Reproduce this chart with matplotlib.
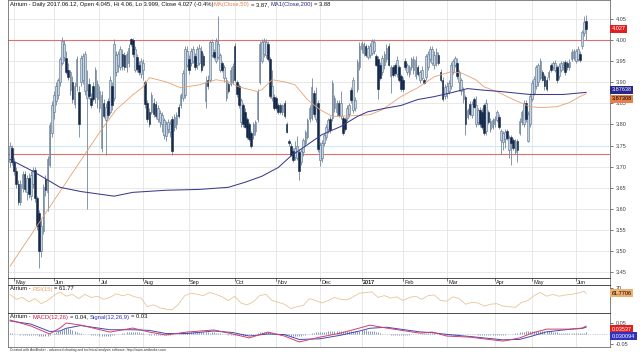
import numpy as np
import matplotlib
matplotlib.use("Agg")
import matplotlib.pyplot as plt

plt.rcParams['font.family'] = ['Liberation Sans', 'DejaVu Sans']

# daily bars, end of April 2016 .. 12 Jun 2017 (one entry per trading day)
opens = [
    3.712, 3.745, 3.712, 3.690, 3.660, 3.616, 3.650, 3.682, 3.640, 3.672, 3.630, 3.660, 3.692, 3.625, 3.590, 3.500, 3.548, 3.670, 3.640, 3.705, 3.780,
    3.830, 3.855, 3.870, 3.900, 3.945, 3.960, 3.958, 3.930, 3.882, 3.900, 3.848, 3.890, 3.878, 3.900, 3.905, 3.880, 3.862, 3.895, 3.862, 3.890, 3.865, 3.860,
    3.840, 3.745, 3.850, 3.810, 3.855, 3.830, 3.890, 3.862, 3.925, 3.940, 3.935, 3.968, 3.965, 3.935, 3.945, 4.002, 4.000, 3.930, 3.960, 3.942, 3.920,
    3.930, 3.900, 3.850, 3.830, 3.830, 3.852, 3.848, 3.812, 3.805, 3.800, 3.775, 3.772, 3.790, 3.782, 3.814, 3.795, 3.800, 3.842, 3.845, 3.862, 3.870, 3.940,
    3.955, 3.945, 3.950, 3.962, 3.940, 3.945, 3.975, 3.962, 3.855, 3.905, 3.905, 3.965, 3.972, 3.950, 3.960, 3.930, 3.945, 3.910, 3.862, 3.895, 3.895, 3.900,
    3.985, 3.900, 3.890, 3.805, 3.845, 3.830, 3.812, 3.800, 3.780, 3.775, 3.785, 3.812, 3.900, 3.950, 3.968, 3.965, 3.990, 3.955, 3.862, 3.865,
    3.862, 3.845, 3.845, 3.830, 3.850, 3.800, 3.760, 3.750, 3.738, 3.722, 3.720, 3.735, 3.712, 3.735, 3.755, 3.770, 3.812, 3.815, 3.875, 3.812, 3.852,
    3.715, 3.720, 3.755, 3.770, 3.790, 3.812, 3.815, 3.838, 3.830, 3.850, 3.820, 3.815, 3.812, 3.815, 3.825, 3.882, 3.835, 3.840, 3.885, 3.935,
    3.978, 3.970, 3.985, 3.960, 3.965, 3.970, 3.975, 3.962, 3.955, 3.940, 3.925, 3.940, 3.955, 3.985, 3.915, 3.935, 3.940, 3.920, 3.935, 3.915,
    3.905, 3.950, 3.925, 3.920, 3.935, 3.928, 3.915, 3.935, 3.905, 3.910, 3.905, 3.912, 3.935, 3.955, 3.945, 3.940, 3.945, 3.965, 3.925, 3.905, 3.868,
    3.875, 3.880, 3.890, 3.925, 3.940, 3.945, 3.900, 3.880, 3.860, 3.865, 3.818, 3.848, 3.822, 3.860, 3.800, 3.805, 3.835, 3.830, 3.845, 3.785, 3.830, 3.790, 3.795,
    3.800, 3.810, 3.818, 3.762, 3.758, 3.765, 3.785, 3.740, 3.770, 3.762, 3.735, 3.760, 3.780, 3.805, 3.800, 3.852, 3.760, 3.800,
    3.860, 3.875, 3.890, 3.900, 3.910, 3.925, 3.915, 3.905, 3.912, 3.940, 3.935, 3.930, 3.935, 3.915, 3.930, 3.935, 3.948, 3.945, 3.935, 3.955, 3.958,
    3.950, 3.955, 3.968, 3.985, 4.017, 4.045,
]
highs = [
    3.758, 3.752, 3.720, 3.700, 3.668, 3.668, 3.690, 3.690, 3.680, 3.685, 3.690, 3.700, 3.700, 3.630, 3.598, 3.575, 3.660, 3.680, 3.725, 3.805, 3.855,
    3.880, 3.900, 3.910, 3.960, 4.008, 4.000, 3.975, 3.945, 3.930, 3.915, 3.900, 3.962, 3.890, 3.965, 3.970, 3.975, 3.930, 3.910, 3.875, 3.900, 3.935, 3.905,
    3.890, 3.880, 3.860, 3.850, 3.862, 3.915, 3.900, 4.002, 3.975, 3.975, 3.985, 3.980, 3.972, 3.975, 3.990, 4.005, 4.004, 3.985, 3.968, 3.950, 3.958,
    3.955, 3.905, 3.858, 3.838, 3.878, 3.862, 3.855, 3.845, 3.835, 3.830, 3.815, 3.808, 3.812, 3.810, 3.820, 3.825, 3.830, 3.848, 3.875, 3.930, 3.985, 3.985,
    3.965, 3.982, 3.985, 3.970, 3.985, 3.990, 3.985, 3.970, 3.915, 3.918, 4.000, 4.002, 3.980, 4.005, 4.058, 3.970, 3.950, 3.940, 3.912, 3.900, 3.935, 3.945,
    3.992, 3.905, 3.895, 3.862, 3.850, 3.838, 3.818, 3.805, 3.785, 3.805, 3.810, 3.885, 3.998, 4.002, 4.004, 4.002, 3.998, 3.960, 3.930, 3.872,
    3.868, 3.850, 3.852, 3.848, 3.858, 3.805, 3.765, 3.756, 3.745, 3.760, 3.772, 3.742, 3.745, 3.768, 3.788, 3.815, 3.845, 3.910, 3.882, 3.888, 3.858,
    3.758, 3.762, 3.780, 3.800, 3.815, 3.820, 3.905, 3.870, 3.858, 3.858, 3.880, 3.820, 3.818, 3.845, 3.850, 3.888, 3.912, 3.865, 3.955, 3.995,
    3.998, 3.995, 3.990, 3.988, 3.992, 4.002, 4.002, 3.968, 3.962, 3.948, 3.965, 3.975, 3.990, 3.992, 3.940, 3.940, 3.945, 3.962, 3.940, 3.920,
    3.912, 3.958, 3.945, 3.940, 3.960, 3.962, 3.962, 3.940, 3.930, 3.938, 3.910, 3.968, 3.975, 3.985, 3.985, 3.975, 3.982, 3.972, 3.932, 3.912, 3.895,
    3.900, 3.905, 3.948, 3.955, 3.962, 3.958, 3.930, 3.910, 3.888, 3.870, 3.840, 3.855, 3.855, 3.865, 3.868, 3.840, 3.842, 3.838, 3.850, 3.860, 3.835, 3.815, 3.815,
    3.820, 3.835, 3.825, 3.790, 3.785, 3.790, 3.790, 3.775, 3.775, 3.768, 3.765, 3.765, 3.815, 3.835, 3.858, 3.858, 3.832, 3.875,
    3.905, 3.915, 3.940, 3.945, 3.958, 3.930, 3.920, 3.912, 3.930, 3.945, 3.950, 3.952, 3.940, 3.945, 3.950, 3.950, 3.952, 3.950, 3.955, 3.978, 3.980,
    3.980, 3.985, 3.975, 4.025, 4.058, 4.060,
]
lows = [
    3.700, 3.705, 3.680, 3.650, 3.610, 3.608, 3.640, 3.640, 3.620, 3.625, 3.620, 3.650, 3.615, 3.550, 3.460, 3.485, 3.540, 3.630, 3.595, 3.700, 3.770,
    3.812, 3.845, 3.860, 3.890, 3.940, 3.950, 3.920, 3.905, 3.870, 3.852, 3.840, 3.880, 3.770, 3.890, 3.895, 3.870, 3.600, 3.860, 3.838, 3.855, 3.850, 3.840,
    3.830, 3.735, 3.815, 3.728, 3.815, 3.825, 3.835, 3.855, 3.915, 3.925, 3.930, 3.930, 3.928, 3.925, 3.935, 3.985, 3.960, 3.925, 3.925, 3.918, 3.910,
    3.905, 3.840, 3.805, 3.795, 3.825, 3.818, 3.812, 3.805, 3.795, 3.782, 3.765, 3.760, 3.780, 3.770, 3.728, 3.785, 3.790, 3.815, 3.838, 3.855, 3.862, 3.935,
    3.920, 3.938, 3.945, 3.930, 3.932, 3.940, 3.925, 3.935, 3.840, 3.885, 3.900, 3.960, 3.955, 3.945, 3.955, 3.925, 3.925, 3.900, 3.855, 3.875, 3.890, 3.895,
    3.900, 3.865, 3.840, 3.795, 3.795, 3.792, 3.765, 3.760, 3.745, 3.765, 3.775, 3.805, 3.895, 3.945, 3.960, 3.958, 3.950, 3.862, 3.855, 3.835,
    3.835, 3.825, 3.825, 3.822, 3.815, 3.780, 3.750, 3.725, 3.712, 3.715, 3.715, 3.668, 3.705, 3.725, 3.748, 3.765, 3.805, 3.810, 3.818, 3.805, 3.735,
    3.702, 3.712, 3.748, 3.762, 3.780, 3.780, 3.808, 3.830, 3.820, 3.818, 3.812, 3.775, 3.785, 3.808, 3.818, 3.852, 3.828, 3.832, 3.878, 3.930,
    3.970, 3.962, 3.960, 3.955, 3.958, 3.965, 3.968, 3.938, 3.860, 3.905, 3.918, 3.932, 3.948, 3.938, 3.875, 3.912, 3.915, 3.912, 3.900, 3.880,
    3.878, 3.928, 3.918, 3.912, 3.928, 3.920, 3.908, 3.915, 3.898, 3.905, 3.895, 3.905, 3.928, 3.948, 3.940, 3.932, 3.938, 3.940, 3.900, 3.855, 3.860,
    3.862, 3.872, 3.885, 3.920, 3.935, 3.908, 3.880, 3.870, 3.852, 3.775, 3.812, 3.820, 3.815, 3.838, 3.795, 3.798, 3.795, 3.790, 3.775, 3.775, 3.800, 3.782, 3.790,
    3.795, 3.805, 3.790, 3.730, 3.740, 3.745, 3.762, 3.720, 3.705, 3.740, 3.730, 3.712, 3.775, 3.798, 3.795, 3.805, 3.758, 3.795,
    3.855, 3.870, 3.885, 3.892, 3.905, 3.902, 3.882, 3.880, 3.905, 3.925, 3.930, 3.925, 3.898, 3.908, 3.925, 3.928, 3.918, 3.930, 3.928, 3.950, 3.952,
    3.945, 3.950, 3.948, 3.980, 4.010, 3.999,
]
closes = [
    3.750, 3.712, 3.690, 3.660, 3.616, 3.660, 3.682, 3.648, 3.672, 3.635, 3.680, 3.692, 3.625, 3.560, 3.500, 3.560, 3.652, 3.645, 3.718, 3.798, 3.845,
    3.870, 3.892, 3.905, 3.955, 3.998, 3.990, 3.925, 3.912, 3.925, 3.860, 3.892, 3.955, 3.800, 3.958, 3.962, 3.968, 3.882, 3.868, 3.845, 3.860, 3.928, 3.895,
    3.880, 3.870, 3.820, 3.842, 3.822, 3.905, 3.845, 3.990, 3.965, 3.968, 3.978, 3.938, 3.935, 3.968, 3.982, 3.990, 3.968, 3.978, 3.932, 3.925, 3.950,
    3.945, 3.848, 3.812, 3.802, 3.870, 3.825, 3.820, 3.840, 3.828, 3.822, 3.810, 3.800, 3.805, 3.800, 3.738, 3.818, 3.822, 3.820, 3.870, 3.922, 3.978, 3.975,
    3.928, 3.975, 3.978, 3.935, 3.980, 3.982, 3.930, 3.940, 3.900, 3.892, 3.995, 3.995, 3.960, 3.998, 3.990, 3.965, 3.930, 3.935, 3.905, 3.880, 3.928, 3.938,
    3.905, 3.872, 3.845, 3.858, 3.802, 3.795, 3.770, 3.765, 3.750, 3.800, 3.805, 3.878, 3.990, 3.995, 3.998, 3.995, 3.955, 3.868, 3.890, 3.840,
    3.840, 3.830, 3.830, 3.845, 3.820, 3.782, 3.755, 3.728, 3.715, 3.745, 3.750, 3.690, 3.738, 3.762, 3.782, 3.810, 3.838, 3.888, 3.825, 3.840, 3.742,
    3.752, 3.755, 3.775, 3.795, 3.810, 3.788, 3.898, 3.862, 3.850, 3.822, 3.850, 3.780, 3.790, 3.838, 3.845, 3.858, 3.905, 3.858, 3.948, 3.985,
    3.992, 3.990, 3.965, 3.982, 3.985, 3.998, 3.995, 3.942, 3.885, 3.910, 3.958, 3.968, 3.982, 3.942, 3.935, 3.918, 3.922, 3.952, 3.905, 3.885,
    3.885, 3.935, 3.940, 3.935, 3.955, 3.955, 3.952, 3.920, 3.925, 3.930, 3.898, 3.962, 3.968, 3.978, 3.978, 3.965, 3.972, 3.945, 3.905, 3.860, 3.888,
    3.892, 3.898, 3.940, 3.950, 3.958, 3.915, 3.925, 3.905, 3.882, 3.800, 3.835, 3.825, 3.848, 3.842, 3.845, 3.835, 3.800, 3.795, 3.780, 3.850, 3.805, 3.808, 3.810,
    3.812, 3.830, 3.795, 3.785, 3.780, 3.782, 3.768, 3.768, 3.755, 3.745, 3.760, 3.740, 3.808, 3.830, 3.850, 3.812, 3.825, 3.868,
    3.898, 3.908, 3.935, 3.940, 3.950, 3.905, 3.890, 3.885, 3.925, 3.930, 3.945, 3.945, 3.905, 3.938, 3.945, 3.942, 3.925, 3.935, 3.948, 3.972, 3.975,
    3.975, 3.978, 3.952, 4.020, 4.043, 4.027,
]

month_labels = ['May', 'Jun', 'Jul', 'Aug', 'Sep', 'Oct', 'Nov', 'Dec', '2017', 'Feb', 'Mar', 'Apr', 'May', 'Jun']
month_first_bar = [2, 21, 43, 64, 86, 108, 128, 149, 169, 189, 210, 233, 251, 272]

# moving averages (bar, value)
ma50_bar = [0, 43, 51, 59, 64, 67, 75, 82, 91, 99, 105, 110, 119, 121, 126, 132, 137, 143, 149, 155,
            167, 173, 179, 188, 196, 204, 212, 217, 224, 228, 234, 242, 250, 255, 263, 269, 274, 277]
ma50_val = [3.464, 3.781, 3.835, 3.870, 3.889, 3.911, 3.901, 3.887, 3.894, 3.906, 3.901, 3.889, 3.878, 3.882, 3.906,
            3.901, 3.894, 3.859, 3.835, 3.819, 3.821, 3.823, 3.835, 3.866, 3.887, 3.913, 3.925, 3.922, 3.906, 3.889,
            3.878, 3.859, 3.842, 3.840, 3.842, 3.852, 3.866, 3.873]
ma200_bar = [0, 11, 24, 34, 50, 59, 75, 91, 105, 113, 121, 129, 135, 143, 150, 159, 167, 172, 180,
             188, 196, 204, 212, 220, 226, 236, 250, 266, 277]
ma200_val = [3.717, 3.689, 3.651, 3.641, 3.630, 3.639, 3.644, 3.646, 3.651, 3.663, 3.677, 3.698, 3.725, 3.752,
             3.776, 3.795, 3.819, 3.830, 3.838, 3.845, 3.859, 3.866, 3.875, 3.885, 3.882, 3.878, 3.871, 3.871, 3.876]
levels = [4.00, 3.73]

# RSI(15), every third bar, last value on the final bar
rsi_val = [60, 52, 55, 48, 53, 45, 50, 58, 64, 57, 60, 53, 60, 55, 57, 52, 55, 61, 58, 60, 56, 54, 40, 43,
           38, 36, 35, 44, 58, 62, 60, 58, 63, 60, 56, 50, 57, 46, 43, 48, 58, 60, 50, 47, 44, 37, 40, 42,
           53, 50, 46, 50, 55, 52, 51, 56, 62, 63, 64, 55, 58, 54, 56, 50, 55, 57, 52, 58, 59, 50, 49, 56,
           53, 44, 47, 46, 41, 44, 45, 41, 40, 39, 47, 50, 58, 63, 57, 60, 57, 59, 60, 62, 65, 61.77]

# MACD(12,26) and signal, (bar, value)
macd_bar = [0, 10, 19, 24, 27, 34, 48, 59, 67, 75, 85, 98, 107, 115, 124, 132, 139, 149, 159, 168,
            173, 181, 197, 203, 210, 221, 237, 245, 251, 258, 269, 275, 277]
macd_val = [0.064, 0.036, -0.002, 0.026, 0.050, 0.040, 0.007, 0.026, 0.007, -0.007, 0.007, 0.017, -0.002,
            -0.021, 0.007, -0.012, -0.040, -0.017, 0.002, 0.026, 0.040, 0.026, 0.002, 0.007, -0.012, -0.017,
            -0.036, -0.021, 0.002, 0.021, 0.021, 0.026, 0.0354]
signal_val = [0.060, 0.045, 0.010, 0.012, 0.025, 0.038, 0.018, 0.018, 0.015, 0.000, 0.000, 0.012, 0.005,
              -0.012, -0.002, -0.005, -0.028, -0.025, -0.008, 0.012, 0.025, 0.030, 0.008, 0.004, -0.004,
              -0.014, -0.030, -0.028, -0.012, 0.008, 0.020, 0.024, 0.0301]
# histogram per bar, in thousandths
macd_hist = [
    4, 2, 0, -2, -4, -6, -7, -8, -9, -9, -9, -8, -8, -9, -10, -11, -12, -12, -10, -6, -2,
    3, 8, 12, 14, 18, 22, 25, 24, 20, 16, 12, 8, 4, 2, 0, -1, -3, -4, -6, -7, -8, -9,
    -10, -10, -11, -11, -11, -10, -8, -6, -4, -2, 0, 2, 4, 5, 6, 7, 8, 8, 7, 5, 3,
    1, -1, -3, -5, -7, -8, -8, -9, -8, -8, -7, -7, -6, -5, -3, -1, 1, 3, 5, 6, 7, 7,
    7, 6, 6, 5, 5, 6, 6, 5, 5, 5, 4, 5, 5, 4, 3, 2, 0, -2, -3, -5, -6, -7,
    -7, -8, -9, -9, -10, -10, -9, -8, -6, -3, 0, 3, 6, 8, 9, 9, 8, 6, 3, 0,
    -2, -4, -6, -7, -7, -8, -9, -10, -11, -12, -12, -12, -11, -9, -7, -4, -1, 2, 4, 6, 7,
    8, 8, 9, 9, 10, 10, 10, 10, 11, 10, 10, 11, 12, 12, 13, 13, 14, 14, 14, 14,
    15, 15, 15, 14, 14, 13, 11, 9, 6, 3, 0, -2, -3, -4, -5, -5, -6, -6, -6, -6,
    -6, -6, -5, -5, -4, -3, -2, -1, 0, 1, 2, 3, 3, 3, 2, 1, 0, -1, -2, -4, -6,
    -8, -8, -7, -7, -6, -5, -5, -4, -4, -3, -3, -3, -3, -4, -4, -5, -5, -5, -6, -6, -6, -6, -6,
    -6, -6, -6, -6, -5, -5, -4, -3, -2, -1, 1, 3, 5, 7, 8, 10, 12, 13,
    14, 14, 14, 14, 14, 13, 13, 12, 11, 10, 8, 7, 5, 4, 3, 2, 2, 1, 1, 1, 1,
    1, 2, 2, 3, 4, 5,
]

n = len(closes)
assert len(opens) == len(highs) == len(lows) == n == len(macd_hist)

W, H = 640, 353
fig = plt.figure(figsize=(W / 100, H / 100), dpi=100, facecolor='white')


def panel(top, bottom):
    return fig.add_axes([8 / W, 1 - bottom / H, (610 - 8) / W, (bottom - top) / H])


ax = panel(0, 278)
axd = panel(278, 285)
axr = panel(285, 313)
axm = panel(313, 347)

xlim = (-1, 288.5)
frame = '#707070'
grid = '#e4e4e4'
for a in (ax, axd, axr, axm):
    a.set_xlim(*xlim)
    a.set_xticks([])
    for s in a.spines.values():
        s.set_color(frame)
        s.set_linewidth(0.6)
    for mb in month_first_bar:
        a.axvline(mb, color=grid, lw=0.6, zorder=0)
    a.yaxis.tick_right()
    a.tick_params(axis='y', labelsize=4, length=2, width=0.5, pad=2,
                  colors='#404040')
for a in (axd, axr, axm):
    a.spines['top'].set_color('#303030')

# ---- price panel
x = np.arange(n)
o = np.array(opens)
c = np.array(closes)
hi = np.array(highs)
lo = np.array(lows)
up = c >= o

ax.set_ylim(3.436, 4.095)
yt = np.arange(3.45, 4.051, 0.05)
ax.set_yticks(yt)
ax.set_yticklabels(['%.2f' % v for v in yt])
for v in yt:
    ax.axhline(v, color=grid, lw=0.6, zorder=0)
ax.axhline(3.75, color='#c8ecec', lw=0.7, zorder=0)
for lv in levels:
    ax.axhline(lv, color='#e07070', lw=0.8, zorder=1)

ax.vlines(x, lo, hi, color='#7088a0', lw=0.6, zorder=2)
ax.bar(x[up], np.maximum(c - o, 0.0015)[up], bottom=o[up], width=0.8,
       color='#c4d4e4', edgecolor='#5a7088', lw=0.4, zorder=3)
ax.bar(x[~up], (o - c)[~up], bottom=c[~up], width=0.8,
       color='#14284a', edgecolor='#14284a', lw=0.4, zorder=3)

ax.plot(ma50_bar, ma50_val, color='#e8a070', lw=0.6, zorder=4)
ax.plot(ma200_bar, ma200_val, color='#3c3c8c', lw=0.75, zorder=4)


def tag(a, y, text, face, fg):
    a.text(1.003, y, text, transform=a.get_yaxis_transform(), fontsize=4,
           color=fg, ha='left', va='center', clip_on=False, zorder=10,
           bbox=dict(boxstyle='square,pad=0.25', facecolor=face, edgecolor='none'))


tag(ax, closes[-1], '4.027', '#e02020', 'white')
tag(ax, 3.882, '3.87638', '#28288a', 'white')
tag(ax, 3.861, '3.87308', '#e8804a', 'black')

# ---- date strip
axd.set_ylim(0, 1)
axd.set_yticks([])
for lab, mb in zip(month_labels, month_first_bar):
    axd.vlines(mb, 0.55, 1, color='#404040', lw=0.5)
    axd.text(mb + 0.6, 0.42, lab, fontsize=4, ha='left', va='center',
             color='#202020', fontweight='bold' if lab == '2017' else 'normal')

# ---- RSI panel
axr.set_ylim(29.8, 75.2)
axr.set_yticks([70])
axr.set_yticklabels(['70'])
rsi_bar = list(range(0, n, 3)) + [n - 1]
axr.plot(rsi_bar, rsi_val, color='#e8c49a', lw=0.6)
tag(axr, 61.77, '61.7706', '#f0b070', 'black')

# ---- MACD panel
axm.set_ylim(-0.064, 0.0976)
axm.set_yticks([0.05, -0.05])
axm.set_yticklabels(['0.05', '-0.05'])
axm.axhline(0, color='#9aa8c4', lw=0.5, ls=(0, (1, 1.5)), zorder=1)
hist = np.array(macd_hist) / 1000.0
axm.vlines(x, 0, hist, color='#7088b0', lw=0.6, zorder=2)
axm.plot(macd_bar, signal_val, color='#4646b4', lw=0.7, zorder=3)
axm.plot(macd_bar, macd_val, color='#d0406a', lw=0.7, zorder=4)
tag(axm, 0.020, '0.03537', '#e02020', 'white')
tag(axm, -0.012, '0.030094', '#3030c0', 'white')

# ---- titles
renderer = fig.canvas.get_renderer()


def text_run(x_px, y_px, parts, size):
    probe = fig.text(0, 0, 'x x', fontsize=size)
    probe2 = fig.text(0, 0, 'xx', fontsize=size)
    sp = probe.get_window_extent(renderer).width - probe2.get_window_extent(renderer).width
    probe.remove()
    probe2.remove()
    for s, col in parts:
        x_px += (len(s) - len(s.lstrip(' '))) * sp
        core = s.strip(' ')
        t = fig.text(x_px / W, 1 - y_px / H, core, color=col, fontsize=size,
                     ha='left', va='center')
        x_px += t.get_window_extent(renderer).width
        x_px += (len(s) - len(s.rstrip(' '))) * sp


black = '#101010'
text_run(10, 4.5, [('Atrium - Daily 2017.06.12, Open 4.045, Hi 4.06, Lo 3.999, Close 4.027 (-0.4%)', black),
                   ('MA(Close,50)', '#e8804a'), (' = 3.87, ', black),
                   ('MA1(Close,200)', '#28288a'), (' = 3.88', black)], 4.2)
text_run(10, 289, [('Atrium - ', black), ('RSI(15)', '#e8a060'), (' = 61.77', black)], 4.2)
text_run(10, 317, [('Atrium - ', black), ('MACD(12,26)', '#d02040'), (' = 0.04, ', black),
                   ('Signal(12,26,9)', '#3030c0'), (' = 0.03', black)], 4.2)
fig.text(10 / W, 1 - 350 / H, 'Created with AmiBroker - advanced charting and technical analysis software. '
         'http://www.amibroker.com', fontsize=2.4, color='#303030', ha='left', va='center')

fig.savefig('out.png', dpi=100, facecolor='white')
